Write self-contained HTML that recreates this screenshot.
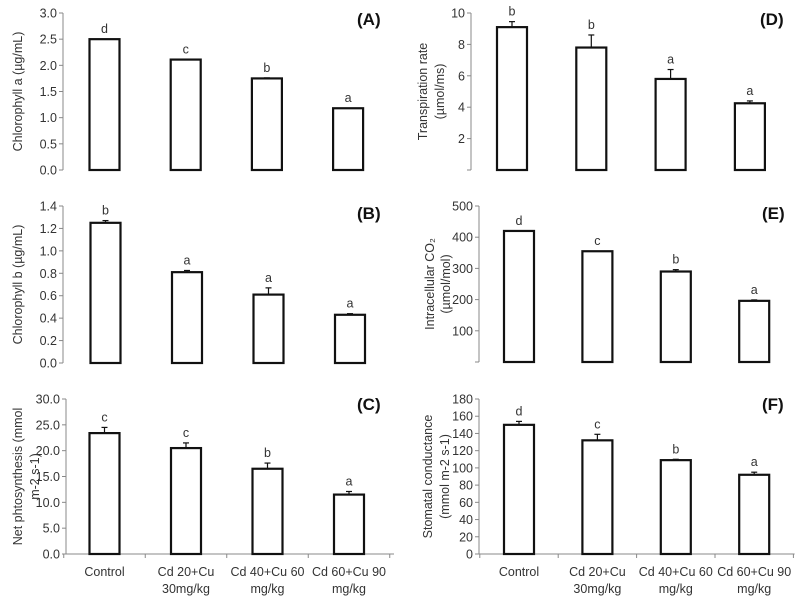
<!DOCTYPE html>
<html><head><meta charset="utf-8"><style>
body{margin:0;background:#fff;}
svg{display:block;font-family:"Liberation Sans",sans-serif;}
</style></head><body>
<svg id="c" width="799" height="598" viewBox="0 0 799 598" xmlns="http://www.w3.org/2000/svg"></svg>
<script>
const categories = ["Control","Cd 20+Cu 30mg/kg","Cd 40+Cu 60 mg/kg","Cd 60+Cu 90 mg/kg"];
const catLine1 = ["Control","Cd 20+Cu","Cd 40+Cu 60","Cd 60+Cu 90"];
const catLine2 = ["","30mg/kg","mg/kg","mg/kg"];
const valsA = [2.50, 2.11, 1.75, 1.18];
const errA = [0, 0, 0.01, 0];
const letA = ["d","c","b","a"];
const ticksA = ["0.0","0.5","1.0","1.5","2.0","2.5","3.0"];
const valsB = [1.25, 0.81, 0.61, 0.43];
const errB = [0.02, 0.015, 0.06, 0.01];
const letB = ["b","a","a","a"];
const ticksB = ["0.0","0.2","0.4","0.6","0.8","1.0","1.2","1.4"];
const valsC = [23.4, 20.5, 16.5, 11.5];
const errC = [1.1, 1.0, 1.1, 0.6];
const letC = ["c","c","b","a"];
const ticksC = ["0.0","5.0","10.0","15.0","20.0","25.0","30.0"];
const valsD = [9.1, 7.8, 5.8, 4.25];
const errD = [0.35, 0.8, 0.6, 0.15];
const letD = ["b","b","a","a"];
const ticksD = ["","2","4","6","8","10"];
const valsE = [420, 355, 290, 196];
const errE = [0, 0, 6, 3];
const letE = ["d","c","b","a"];
const ticksE = ["","100","200","300","400","500"];
const valsF = [150, 132, 109, 92];
const errF = [4, 7, 1, 3];
const letF = ["d","c","b","a"];
const ticksF = ["0","20","40","60","80","100","120","140","160","180"];

const NS="http://www.w3.org/2000/svg";
const svg=document.getElementById('c');
function mk(t,a,p){const e=document.createElementNS(NS,t);for(const k in a)e.setAttribute(k,a[k]);(p||svg).appendChild(e);return e;}

const panels=[
 {id:"a",label:"(A)",vals:valsA,err:errA,lets:letA,ticks:ticksA,max:3,ax:63,top:13,bot:170,x0:104.5,step:81.2,titles:["Chlorophyll a (µg/mL)"],tx:[18],xaxis:false,lx:357,ly:25},
 {id:"b",label:"(B)",vals:valsB,err:errB,lets:letB,ticks:ticksB,max:1.4,ax:63,top:206,bot:363,x0:105.5,step:81.5,titles:["Chlorophyll b (µg/mL)"],tx:[18],xaxis:false,lx:357,ly:219},
 {id:"c",label:"(C)",vals:valsC,err:errC,lets:letC,ticks:ticksC,max:30,ax:66,top:399,bot:554,x0:104.5,step:81.5,titles:["Net phtosynthesis (mmol","m-2 s-1)"],tx:[18,35],xaxis:true,lx:357,ly:410},
 {id:"d",label:"(D)",vals:valsD,err:errD,lets:letD,ticks:ticksD,max:10,ax:471,top:13,bot:170,x0:512,step:79.3,titles:["Transpiration rate","(µmol/ms)"],tx:[423,440],xaxis:false,lx:760,ly:25},
 {id:"e",label:"(E)",vals:valsE,err:errE,lets:letE,ticks:ticksE,max:500,ax:479,top:206,bot:362,x0:519,step:78.4,titles:["Intracellular CO₂","(µmol/mol)"],tx:[430,446],xaxis:false,lx:762,ly:219},
 {id:"f",label:"(F)",vals:valsF,err:errF,lets:letF,ticks:ticksF,max:180,ax:479,top:399,bot:554,x0:519,step:78.4,titles:["Stomatal conductance","(mmol m-2 s-1)"],tx:[428,445],xaxis:true,lx:762,ly:410}
];

panels.forEach(p=>{
 const g=mk('g',{});
 
 
 const y=v=>p.bot-(v/p.max)*(p.bot-p.top);
 const ya=mk('line',{x1:p.ax,x2:p.ax,y1:p.top,y2:p.bot,stroke:'#888','stroke-width':1},g);
 
 
 const n=p.ticks.length-1;
 p.ticks.forEach((t,i)=>{
  const v=p.max*i/n, yy=y(v);
  mk('line',{x1:p.ax-4,x2:p.ax,y1:yy,y2:yy,stroke:'#888','stroke-width':1},g);
  if(t){const tt=mk('text',{x:p.ax-6,y:yy+4.5,'text-anchor':'end','font-size':12.5,fill:'#333'},g);tt.textContent=t;
   
   }
 });
 const cy=(p.top+p.bot)/2;
 p.titles.forEach((s,i)=>{
  const t=mk('text',{x:p.tx[i],y:cy,'text-anchor':'middle','font-size':12.5,fill:'#333',transform:`rotate(-90 ${p.tx[i]} ${cy})`,dy:4},g);
  t.textContent=s;
  
  
 });
 const lb=mk('text',{x:p.lx,y:p.ly,'font-size':17,'font-weight':'bold',fill:'#111'},g);
 lb.textContent=p.label;
 
 
 if(p.xaxis){
  const xr=p.ax+p.step*4+2;
  const xa=mk('line',{x1:p.ax,x2:xr,y1:p.bot,y2:p.bot,stroke:'#888','stroke-width':1},g);
  
  
  for(let i=0;i<=4;i++){const xx=p.x0-p.step/2+p.step*i;mk('line',{x1:xx,x2:xx,y1:p.bot,y2:p.bot+4,stroke:'#888'},g);}
  categories.forEach((c,i)=>{
   const cx=p.x0+p.step*i;
   const t=mk('text',{x:cx,y:p.bot+22,'text-anchor':'middle','font-size':12.5,fill:'#333'},g);
   t.textContent=catLine1[i];
   
   
   if(catLine2[i]){const t2=mk('text',{x:cx,y:p.bot+39,'text-anchor':'middle','font-size':12.5,fill:'#333'},g);t2.textContent=catLine2[i];
    
    }
  });
 }
 p.vals.forEach((v,i)=>{
  const cx=p.x0+p.step*i, w=30, yt=y(v);
  const ye=y(v+p.err[i]);
  if(p.err[i]>0){
   mk('line',{x1:cx,x2:cx,y1:yt,y2:ye,stroke:'#111','stroke-width':1.2},g);
   mk('line',{x1:cx-3,x2:cx+3,y1:ye,y2:ye,stroke:'#111','stroke-width':1.2},g);
  }
  const r=mk('rect',{x:cx-w/2,y:yt,width:w,height:p.bot-yt,fill:'#fff',stroke:'#111','stroke-width':2.2},g);
  
  
  const l=mk('text',{x:cx,y:ye-6,'text-anchor':'middle','font-size':12.5,fill:'#333'},g);
  l.textContent=p.lets[i];
  
  
 });
});
</script>
</body></html>
